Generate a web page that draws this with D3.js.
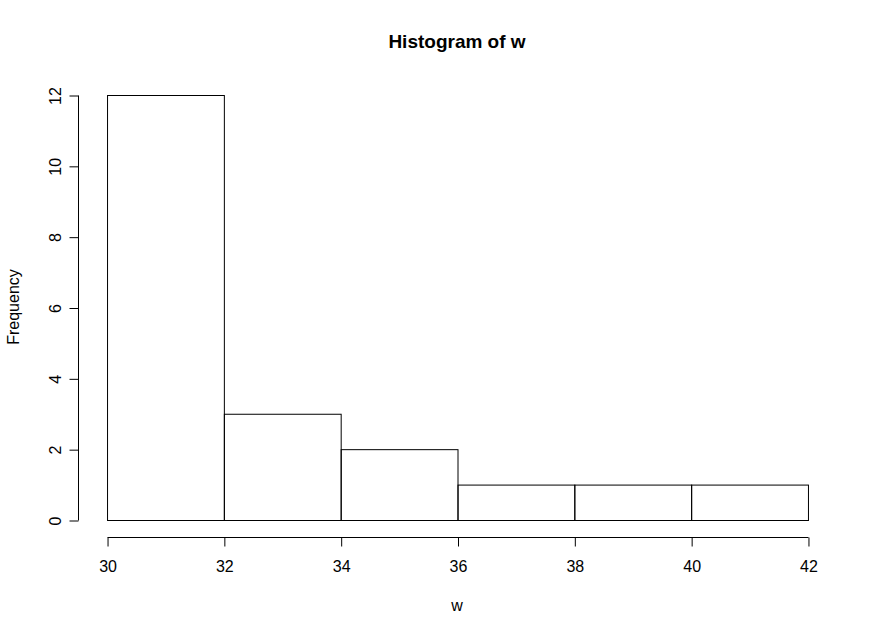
<!DOCTYPE html>
<html>
<head>
<meta charset="utf-8">
<script src="https://cdn.jsdelivr.net/npm/d3@7"></script>
<style>
  body { margin: 0; background: #fff; }
  text { font-family: "Liberation Sans", Arial, sans-serif; fill: #000; }
</style>
</head>
<body>
<div class="hist"></div>
<script>
// histogram bins of w and their counts
const binEdges = [30, 32, 34, 36, 38, 40, 42];
const counts = [12, 3, 2, 1, 1, 1];
const xTicks = [30, 32, 34, 36, 38, 40, 42];
const yTicks = [0, 2, 4, 6, 8, 10, 12];

const width = 877, height = 635;

const svg = d3.select(".hist")
  .append("svg")
  .attr("width", width)
  .attr("height", height);

// R style: 4% extension around the data range
const x = d3.scaleLinear().domain([29.52, 42.48]).range([79, 836]);
const y = d3.scaleLinear().domain([-0.48, 12.48]).range([537, 78]);

const bins = counts.map((c, i) => ({ x0: binEdges[i], x1: binEdges[i + 1], n: c }));

svg.append("g")
  .selectAll("rect")
  .data(bins)
  .enter()
  .append("rect")
  .attr("x", d => x(d.x0) + 0.5)
  .attr("y", d => y(d.n) + 0.5)
  .attr("width", d => x(d.x1) - x(d.x0))
  .attr("height", d => y(0) - y(d.n))
  .attr("fill", "none")
  .attr("stroke", "#000")
  .attr("stroke-width", 1);

// x axis
const xAxis = svg.append("g")
  .attr("transform", "translate(0.5," + (537 + 0.5) + ")")
  .call(d3.axisBottom(x).tickValues(xTicks).tickSize(9).tickSizeOuter(0).tickPadding(14));
xAxis.select(".domain").attr("d", "M" + x(30) + ",0H" + x(42));
xAxis.selectAll("text").style("font-size", "16px").attr("fill", "#000");

// y axis, rotated labels like R
const yAxis = svg.append("g")
  .attr("transform", "translate(" + (78 + 0.5) + ",0.5)")
  .call(d3.axisLeft(y).tickValues(yTicks).tickSize(9).tickSizeOuter(0));
yAxis.select(".domain").attr("d", "M0," + y(0) + "V" + y(12));
yAxis.selectAll("text")
  .style("font-size", "16px")
  .attr("x", null).attr("dy", null)
  .attr("text-anchor", "middle")
  .attr("transform", "translate(-23,0) rotate(-90)")
  .attr("dy", "0.35em");

svg.append("text")
  .attr("x", 457).attr("y", 48)
  .attr("text-anchor", "middle")
  .style("font-size", "19px")
  .style("font-weight", "bold")
  .text("Histogram of w");

svg.append("text")
  .attr("x", 457).attr("y", 611)
  .attr("text-anchor", "middle")
  .style("font-size", "16px")
  .text("w");

svg.append("text")
  .attr("transform", "translate(19,307) rotate(-90)")
  .attr("text-anchor", "middle")
  .style("font-size", "16px")
  .text("Frequency");
</script>
</body>
</html>
